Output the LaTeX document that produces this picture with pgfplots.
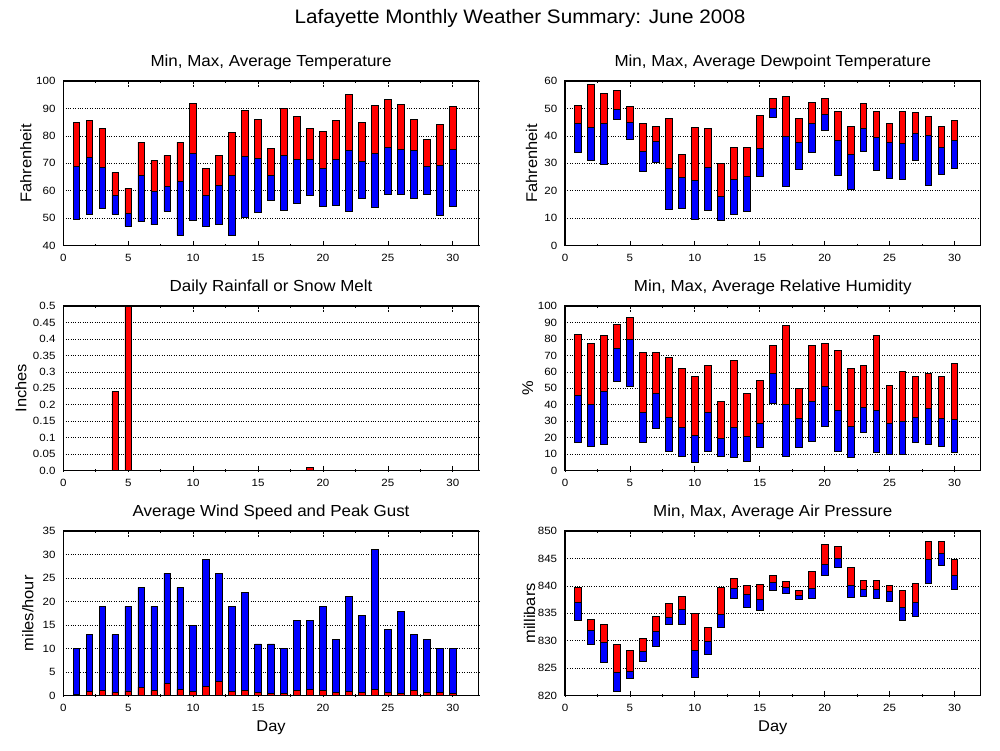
\documentclass[border=0pt]{standalone}
\usepackage{fontspec}
\setmainfont{Liberation Sans}[FakeStretch=1.06]
\newfontfamily\tickfont{Liberation Sans}[FakeStretch=1.1]
\usepackage{pgfplots}
\usepackage{pgfplotstable}
\pgfplotsset{compat=1.18}

\pgfplotstableread{
day lo avg hi
1 49.5 68.8 84.9
2 51.3 72.2 85.7
3 53.6 68.5 82.8
4 51.4 58.3 66.7
5 47.0 51.8 60.9
6 48.7 65.6 77.7
7 47.6 59.8 71.1
8 52.5 61.6 72.9
9 43.8 63.4 77.7
10 49.2 73.6 91.9
11 47.0 58.3 68.1
12 47.8 62.0 72.9
13 43.8 65.6 81.3
14 50.3 72.5 89.3
15 52.1 71.8 86.0
16 56.5 65.6 75.5
17 52.9 72.9 90.0
18 55.4 71.5 87.1
19 58.3 71.5 82.8
20 54.3 68.2 81.7
21 54.7 71.5 85.7
22 52.5 74.7 95.1
23 57.2 70.7 84.9
24 54.0 73.6 91.1
25 58.7 75.8 93.3
26 58.7 75.1 91.5
27 57.2 74.7 86.0
28 58.7 68.9 78.7
29 51.1 69.3 84.2
30 54.3 75.1 90.8
}\temptable

\pgfplotstableread{
day lo avg hi
1 34.0 44.6 51.1
2 31.1 43.1 58.8
3 29.6 44.6 55.5
4 46.0 49.7 56.6
5 38.7 44.9 50.8
6 27.1 34.4 44.6
7 30.4 38.0 43.5
8 13.2 28.2 46.4
9 13.6 24.9 33.3
10 9.6 23.8 43.1
11 12.9 28.5 42.8
12 9.2 18.0 30.0
13 11.4 24.2 35.8
14 12.5 25.3 35.8
15 25.3 35.5 47.5
16 46.8 50.0 53.7
17 21.6 39.8 54.4
18 27.8 37.7 46.4
19 34.0 44.6 52.2
20 42.0 47.9 53.7
21 25.6 38.4 48.9
22 20.5 33.3 43.5
23 34.4 42.8 51.9
24 27.4 39.5 48.9
25 24.5 37.7 44.6
26 24.2 37.3 48.9
27 31.1 40.9 48.6
28 22.0 40.2 47.1
29 26.0 35.8 43.5
30 28.2 38.4 45.7
}\dewtable

\pgfplotstableread{
day lo avg hi
1 17.2 45.7 82.8
2 14.8 40.3 77.3
3 16.0 48.2 82.2
4 54.3 74.3 88.9
5 51.2 79.8 93.1
6 17.2 35.4 71.9
7 25.7 47.0 71.9
8 11.7 32.4 68.8
9 8.7 26.3 62.1
10 5.1 21.5 57.3
11 11.7 35.4 64.0
12 8.7 19.6 42.1
13 8.1 26.3 67.0
14 5.7 20.9 47.0
15 14.2 28.7 54.9
16 40.9 59.1 76.1
17 8.7 40.3 88.3
18 14.2 31.8 50.0
19 17.8 42.1 76.1
20 26.9 51.2 77.3
21 11.7 36.6 73.1
22 8.1 26.9 62.1
23 23.3 38.5 64.0
24 11.1 36.6 82.2
25 9.9 28.7 51.8
26 9.9 30.0 60.3
27 17.2 32.4 57.3
28 16.0 37.9 59.1
29 14.8 31.8 57.3
30 11.1 31.2 65.2
}\humtable

\pgfplotstableread{
day lo avg hi
1 833.7 837.0 839.7
2 829.4 831.9 833.9
3 826.1 829.7 833.0
4 820.8 824.3 829.4
5 823.2 824.4 828.3
6 826.3 828.1 830.4
7 829.0 831.7 834.5
8 833.0 834.3 836.8
9 833.0 835.7 838.1
10 823.3 828.3 835.0
11 827.5 829.9 832.4
12 832.4 834.8 839.7
13 837.7 839.6 841.4
14 836.1 838.5 840.1
15 835.5 837.6 840.3
16 839.2 840.65 841.9
17 838.6 839.7 840.8
18 837.6 838.3 839.2
19 837.7 839.6 842.65
20 841.9 843.9 847.6
21 843.4 845.0 847.2
22 837.9 840.1 843.4
23 838.1 839.4 841.0
24 837.7 839.4 841.0
25 837.2 839.0 840.1
26 833.7 836.1 839.2
27 834.5 837.0 840.5
28 840.5 844.8 848.1
29 843.7 845.9 848.1
30 839.4 841.9 844.8
}\prestable

\pgfplotstableread{
day avg gust
1 0.3 10
2 0.9 13
3 1.1 19
4 0.7 13
5 1.0 19
6 1.8 23
7 1.1 19
8 2.6 26
9 1.35 23
10 0.9 15
11 2.0 29
12 3.0 26
13 0.9 19
14 1.1 22
15 0.7 11
16 0.5 11
17 0.5 10
18 1.1 16
19 1.35 16
20 1.1 19
21 0.7 12
22 0.9 21
23 0.7 17
24 1.35 31
25 0.7 14
26 0.5 18
27 1.1 13
28 0.7 12
29 0.7 10
30 0.5 10
}\windtable

\pgfplotstableread{
day rain
1 0
2 0
3 0
4 0.24
5 0.5
6 0
7 0
8 0
9 0
10 0
11 0
12 0
13 0
14 0
15 0
16 0
17 0
18 0
19 0.01
20 0
21 0
22 0
23 0
24 0
25 0
26 0
27 0
28 0
29 0
30 0
}\raintable

\pgfplotsset{
  every axis title shift=0pt,
  wx/.style={
    scale only axis, width=415.5pt, height=164.7pt,
    anchor=south west,
    xmin=0, xmax=32, xtick={0,5,...,30}, minor xtick={2.5,7.5,...,27.5},
    xtick pos=both, tick align=inside,
    major tick length=5pt, minor tick length=2pt,
    x tick style={black, densely dotted, line width=0.8pt},
    ytick pos=left, y tick style={draw=none},
    ymajorgrids, major grid style={black, dotted, line width=0.7pt},
    axis line style={black, line width=1.1pt},
    tick label style={font=\tickfont\fontsize{10.5}{12}\selectfont},
    yticklabel style={xshift=-4.3pt},
    xticklabel style={yshift=-5pt},
    /pgf/number format/assume math mode=true,
    title style={font=\fontsize{16}{19}\selectfont, at={(axis description cs:0.5,1)}, anchor=base, yshift=14.3pt},
    ylabel style={font=\fontsize{15.5}{18}\selectfont, anchor=base},
    xlabel style={font=\fontsize{15.5}{18}\selectfont, at={(axis description cs:0.5,0)}, anchor=base, yshift=-36pt},
    clip=true,
  },
  ylab/.style={ylabel style={at={(axis description cs:-#1/415.5,0.5)}}},
  rng/.style={wx, ybar stacked, bar width=0.5},
}

\begin{document}
\begin{tikzpicture}
\useasboundingbox (0,0) rectangle (1000pt,750pt);
\node[font=\fontsize{19.5}{23}\selectfont, anchor=base] at (520pt,726.7pt) {Lafayette Monthly Weather Summary: June 2008};

% Temperature
\begin{axis}[rng, at={(63.3pt,504.3pt)}, ymin=40, ymax=100, ytick={40,50,...,100},
  title={Min, Max, Average Temperature}, ylabel={Fahrenheit}, ylab=32]
\addplot[draw=none, fill=none] table[x=day, y=lo] {\temptable};
\addplot[fill=blue, draw=black, line width=0.8pt] table[x=day, y expr=\thisrow{avg}-\thisrow{lo}] {\temptable};
\addplot[fill=red, draw=black, line width=0.8pt] table[x=day, y expr=\thisrow{hi}-\thisrow{avg}] {\temptable};
\end{axis}

% Dewpoint
\begin{axis}[rng, at={(565pt,504.3pt)}, ymin=0, ymax=60, ytick={0,10,...,60},
  title={Min, Max, Average Dewpoint Temperature}, ylabel={Fahrenheit}, ylab=28]
\addplot[draw=none, fill=none] table[x=day, y=lo] {\dewtable};
\addplot[fill=blue, draw=black, line width=0.8pt] table[x=day, y expr=\thisrow{avg}-\thisrow{lo}] {\dewtable};
\addplot[fill=red, draw=black, line width=0.8pt] table[x=day, y expr=\thisrow{hi}-\thisrow{avg}] {\dewtable};
\end{axis}

% Rain
\begin{axis}[wx, at={(63.3pt,279.3pt)}, ymin=0, ymax=0.5, ytick={0,0.05,...,0.51},
  yticklabels={0.0,0.05,0.1,0.15,0.2,0.25,0.3,0.35,0.4,0.45,0.5},
  title={Daily Rainfall or Snow Melt}, ylabel={Inches}, ylab=37]
\addplot[ybar, bar width=0.5, bar shift=0pt, fill=red, draw=black, line width=0.8pt] table[x=day, y=rain] {\raintable};
\end{axis}

% Humidity
\begin{axis}[rng, at={(565pt,279.3pt)}, ymin=0, ymax=100, ytick={0,10,...,100},
  title={Min, Max, Average Relative Humidity}, ylabel={\%}, ylab=32]
\addplot[draw=none, fill=none] table[x=day, y=lo] {\humtable};
\addplot[fill=blue, draw=black, line width=0.8pt] table[x=day, y expr=\thisrow{avg}-\thisrow{lo}] {\humtable};
\addplot[fill=red, draw=black, line width=0.8pt] table[x=day, y expr=\thisrow{hi}-\thisrow{avg}] {\humtable};
\end{axis}

% Wind
\begin{axis}[wx, at={(63.3pt,54.3pt)}, ymin=0, ymax=35, ytick={0,5,...,35},
  title={Average Wind Speed and Peak Gust}, ylabel={miles/hour}, ylab=30, xlabel={Day}]
\addplot[ybar, bar width=0.5, bar shift=0pt, fill=blue, draw=black, line width=0.8pt] table[x=day, y=gust] {\windtable};
\addplot[ybar, bar width=0.5, bar shift=0pt, fill=red, draw=black, line width=0.8pt] table[x=day, y=avg] {\windtable};
\end{axis}

% Pressure
\begin{axis}[rng, at={(565pt,54.3pt)}, ymin=820, ymax=850, ytick={820,825,...,850},
  title={Min, Max, Average Air Pressure}, ylabel={millibars}, ylab=30, xlabel={Day}]
\addplot[draw=none, fill=none] table[x=day, y=lo] {\prestable};
\addplot[fill=blue, draw=black, line width=0.8pt] table[x=day, y expr=\thisrow{avg}-\thisrow{lo}] {\prestable};
\addplot[fill=red, draw=black, line width=0.8pt] table[x=day, y expr=\thisrow{hi}-\thisrow{avg}] {\prestable};
\end{axis}
\end{tikzpicture}
\end{document}
